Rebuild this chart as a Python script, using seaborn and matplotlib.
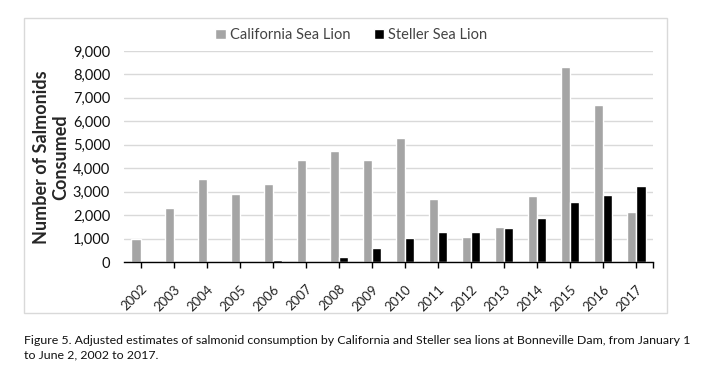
import seaborn as sns
import pandas as pd
from matplotlib import pyplot as plt
from matplotlib.patches import Rectangle
from matplotlib.ticker import FuncFormatter

years = [str(y) for y in range(2002, 2018)]
california = [1000, 2320, 3520, 2900, 3320, 4340, 4730, 4350, 5300, 2690, 1080, 1500, 2820, 8330, 6680, 2140]
steller = [0, 0, 0, 0, 100, 0, 200, 610, 1040, 1290, 1290, 1430, 1890, 2550, 2860, 3250]
series_names = ['California Sea Lion', 'Steller Sea Lion']
caption = ('Figure 5. Adjusted estimates of salmonid consumption by California and Steller sea lions '
           'at Bonneville Dam, from January 1\nto June 2, 2002 to 2017.')

df = pd.DataFrame({
    'year': years * 2,
    'consumed': california + steller,
    'species': [series_names[0]] * len(years) + [series_names[1]] * len(years),
})

sns.set_theme(style="white")
plt.rcParams['font.family'] = ['Lato', 'DejaVu Sans']

fig = plt.figure(figsize=(7.03, 3.72), dpi=100)
ax = fig.add_axes([124 / 703, 1 - 262 / 372, 529 / 703, 211 / 372])

sns.barplot(data=df, x='year', y='consumed', hue='species', hue_order=series_names,
            palette=['#a5a5a5', '#000000'], width=0.55, ax=ax, saturation=1)

ax.set_ylim(0, 9000)
ax.set_xlim(-0.5, len(years) - 0.5)
ax.set_yticks(range(0, 9001, 1000))
ax.yaxis.set_major_formatter(FuncFormatter(lambda v, p: f'{int(v):,}'))
ax.yaxis.grid(True, color='#d9d9d9', linewidth=1)
ax.set_axisbelow(True)
for side in ['top', 'right', 'left']:
    ax.spines[side].set_visible(False)
ax.spines['bottom'].set_color('black')
ax.spines['bottom'].set_linewidth(1)

ax.set_xticks(range(len(years)), years, rotation=45, ha='right', rotation_mode='anchor')
# excel also puts a tick at the right end of the category axis
ax.set_xticks([len(years) - 0.5], minor=True)
ax.tick_params(axis='y', length=0, labelsize=10.5, colors='#111111', pad=10)
ax.tick_params(axis='x', which='both', bottom=True, length=4, width=1, color='black',
               labelsize=9.5, labelcolor='#222222', pad=11)

ax.set_xlabel('')
ax.set_ylabel('')
fig.text(51 / 703, 1 - 157 / 372, 'Number of Salmonids\nConsumed', rotation=90,
         ha='center', va='center', fontsize=13, fontweight='bold', linespacing=1.15,
         multialignment='center')

ax.legend(loc='lower center', bbox_to_anchor=(0.43, 0.98), ncol=2, frameon=False,
          fontsize=10.5, handlelength=0.7, handleheight=0.7, handletextpad=0.3,
          columnspacing=1.6, labelcolor='#444444')

fig.patches.append(Rectangle((24 / 703, 1 - 313 / 372), 643 / 703, 295 / 372,
                             transform=fig.transFigure, fill=False,
                             edgecolor='#d9d9d9', linewidth=1))

fig.text(24 / 703, 1 - 348 / 372, caption, ha='left', va='center', fontsize=8.9,
         color='#111111', linespacing=1.35)

fig.savefig('out.png', dpi=100)
